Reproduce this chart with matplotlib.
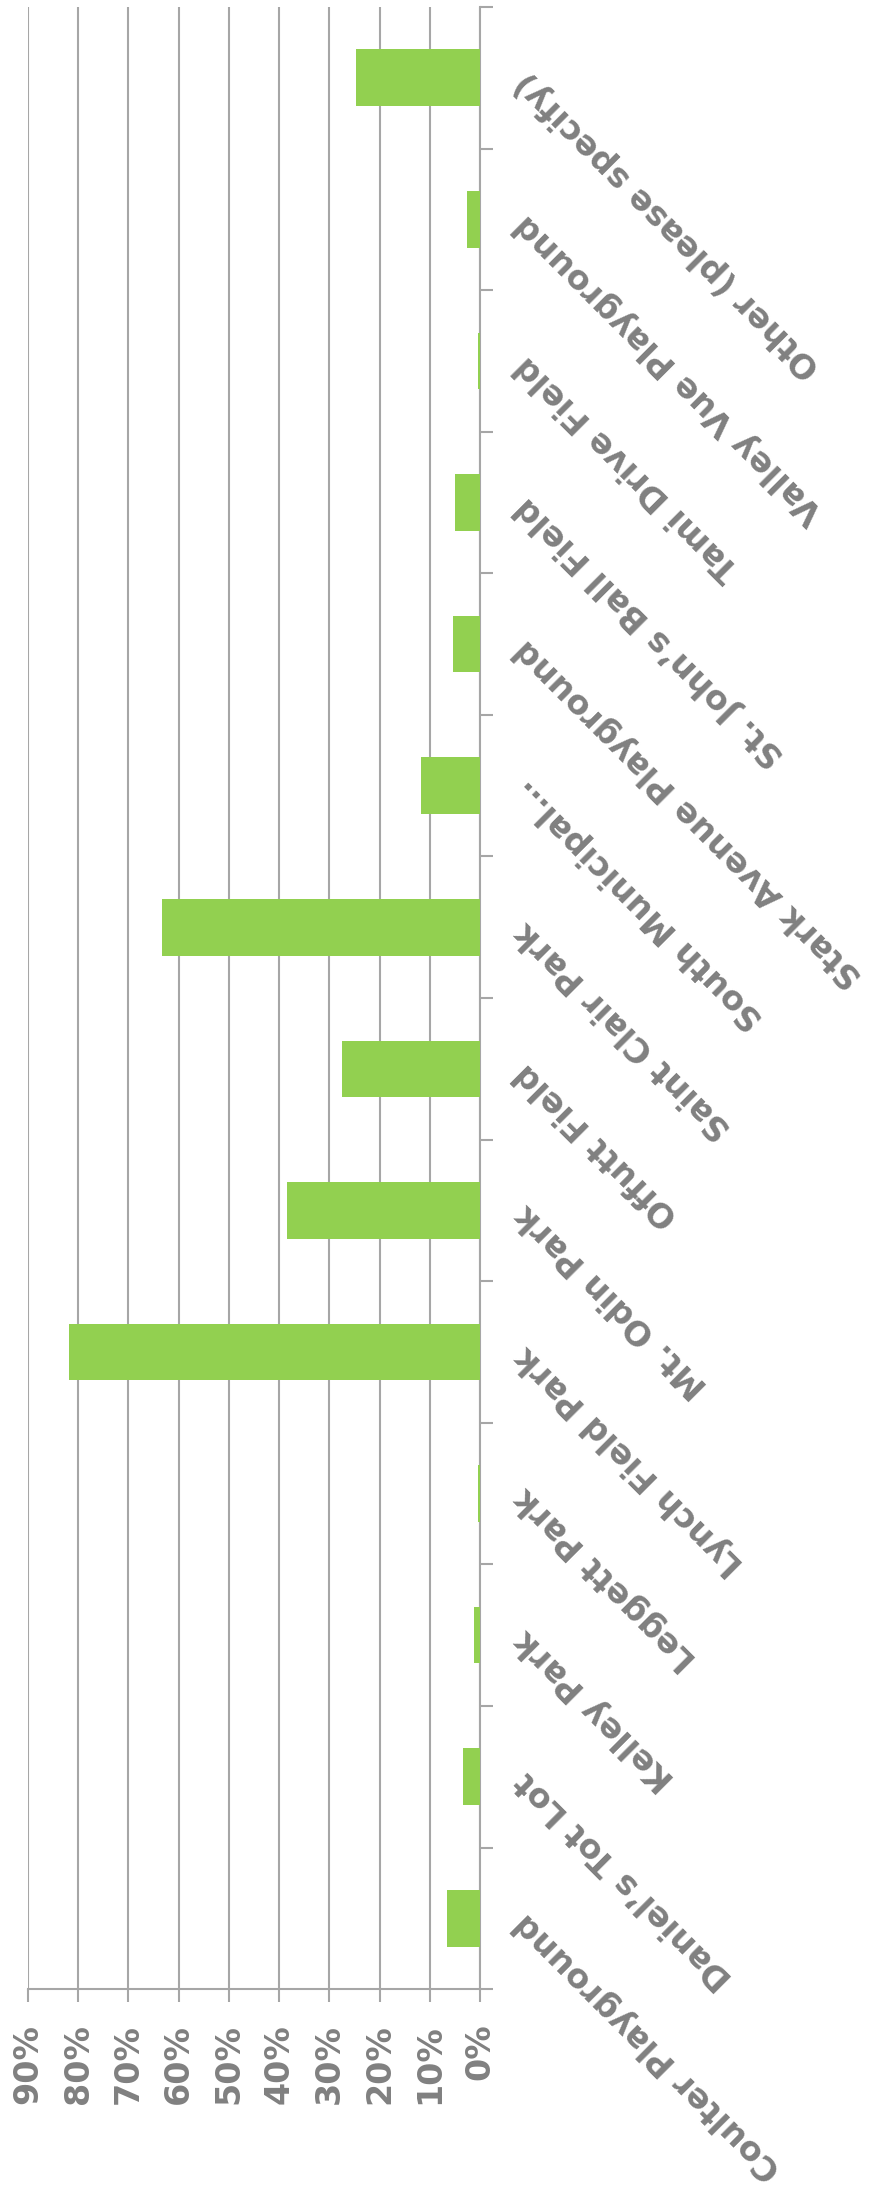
import numpy as np
import matplotlib
matplotlib.use("Agg")
import matplotlib.pyplot as plt

# playground usage survey, shares of respondents (%)
categories = ["Coulter Playground", "Daniel\u2019s Tot Lot", "Kelley Park", "Leggett Park",
              "Lynch Field Park", "Mt. Odin Park", "Offutt Field", "Saint Clair Park",
              "South Municipal\u2026", "Stark Avenue Playground", "St. John\u2019s Ball Field",
              "Tami Drive Field", "Valley Vue Playground", "Other (please specify)"]
values = [6.6, 3.4, 1.1, 0.3, 81.9, 38.5, 27.5, 63.3, 11.7, 5.4, 5.0, 0.3, 2.6, 24.7]
pct_ticks = list(range(0, 91, 10))
pct_labels = [f"{v}%" for v in pct_ticks]

GREEN = "#92D050"
GRID = "#A6A6A6"
TEXT = "#808080"

plt.rcParams["font.family"] = ["DejaVu Sans"]
plt.rcParams["font.weight"] = "bold"

fig = plt.figure(figsize=(8.72, 21.94), dpi=100)
ax = fig.add_axes([0.0321, 0.0934, 0.5183, 0.9034])

y = np.arange(len(categories))
ax.barh(y, values, height=0.4, color=GREEN, zorder=3)
ax.set_xlim(90, 0)
ax.set_ylim(-0.5, len(categories) - 0.5)

# value axis (bottom)
ax.set_xticks(pct_ticks)
ax.set_xticklabels(pct_labels)
ax.xaxis.grid(True, color=GRID, linewidth=1.5)
ax.set_axisbelow(True)
ax.tick_params(axis="x", direction="out", length=9, width=1.5, color=GRID,
               labelsize=24, labelcolor=TEXT, labelrotation=90, pad=16)

# category axis (right)
ax.yaxis.tick_right()
ax.set_yticks(y)
ax.set_yticklabels(categories)
ax.set_yticks(np.arange(-0.5, len(categories), 1), minor=True)
ax.tick_params(axis="y", which="major", length=0, pad=29, labelsize=24, labelcolor=TEXT)
ax.tick_params(axis="y", which="minor", direction="out", length=9, width=1.5, color=GRID)
for lab in ax.get_yticklabels():
    lab.set_rotation(135)
    lab.set_ha("right")
    lab.set_va("center")
    lab.set_rotation_mode("anchor")

for side in ["top", "left"]:
    ax.spines[side].set_visible(False)
for side in ["right", "bottom"]:
    ax.spines[side].set_color(GRID)
    ax.spines[side].set_linewidth(1.5)

fig.savefig("out.png", dpi=100)
